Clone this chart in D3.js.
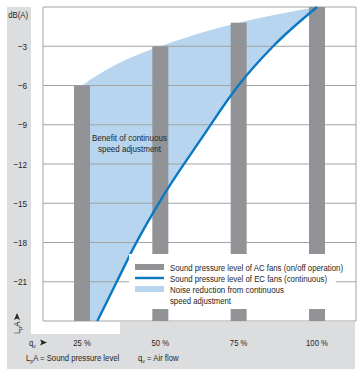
<!DOCTYPE html>
<html>
<head>
<meta charset="utf-8">
<script src="https://cdn.jsdelivr.net/npm/d3@7"></script>
<style>
  body { margin: 0; background: #fff; }
  svg text { font-family: "Liberation Sans", Arial, sans-serif; fill: #262626; }
</style>
</head>
<body>
<div id="chart"></div>
<script>
// data
const flowSteps = [25, 50, 75, 100];                 // q_v in %
const acLevels = [-6, -3, -1.2, 0];                  // AC fans, dB(A)
const acCurvePct = [25, 30, 37.5, 50, 62.5, 75, 87.5, 100];
const acCurveDb = [-6, -5.2, -4.2, -3, -2.0, -1.2, -0.55, 0];
const ecCurvePct = [29.9, 36.1, 41.9, 50.5, 62.7, 74.9, 86, 100];
const ecCurveDb = [-24, -21, -18.2, -14.6, -10.2, -6.0, -3, 0];
const yTicks = [-3, -6, -9, -12, -15, -18, -21];
const xLabels = ["25 %", "50 %", "75 %", "100 %"];
const legendItems = [
  { kind: "bar", lines: ["Sound pressure level of AC fans (on/off operation)"], len: [173] },
  { kind: "line", lines: ["Sound pressure level of EC fans (continuous)"], len: [157] },
  { kind: "area", lines: ["Noise reduction from continuous", "speed adjustment"], len: [114, 61] }
];

const W = 361, H = 374;
const colBar = "#929397", colFill = "#b7d5ee", colLine = "#0a79c2", colGrid = "#a3a3a3", colBg = "#dcdddf";
const sx = 0.86; // condensed look

const svg = d3.select("#chart").append("svg")
  .attr("width", W).attr("height", H);

// condensed text helper
function label(g, x0, y0, size, anchor) {
  return g.append("text")
    .attr("transform", `translate(${x0},${y0}) scale(${sx},1)`)
    .attr("text-anchor", anchor || "start")
    .style("font-size", size + "px");
}

const x = d3.scaleLinear().domain([25, 100]).range([82, 317]);
const y = d3.scaleLinear().domain([-24, 0]).range([321, 7]);
const plotL = 43, plotR = 356;

// background panels
svg.append("rect").attr("x", 7).attr("y", 7).attr("width", 348).attr("height", 362).attr("fill", colBg);
svg.append("rect").attr("x", 31).attr("y", 7).attr("width", 324).attr("height", 315).attr("fill", "#fff");
svg.append("rect").attr("x", 31).attr("y", 321).attr("width", 89).attr("height", 13).attr("fill", "#fff");

const acPts = acCurvePct.map((p, i) => [p, acCurveDb[i]]);
const ecPts = ecCurvePct.map((p, i) => [p, ecCurveDb[i]]);

// shaded benefit region: under AC envelope, then blank under EC curve
svg.append("path")
  .attr("d", d3.area().curve(d3.curveMonotoneX)
    .x(d => x(d[0])).y0(y(-24)).y1(d => y(d[1]))(acPts))
  .attr("fill", colFill);
svg.append("path")
  .attr("d", d3.area().curve(d3.curveMonotoneX)
    .x(d => x(d[0])).y0(y(-24)).y1(d => y(d[1]))(ecPts))
  .attr("fill", "#fff");

// grid
const grid = svg.append("g");
grid.selectAll("line.h")
  .data([0, ...yTicks, -24])
  .join("line")
  .attr("x1", plotL).attr("x2", plotR)
  .attr("y1", d => y(d)).attr("y2", d => y(d))
  .attr("stroke", colGrid).attr("stroke-width", 1);
grid.selectAll("line.v")
  .data([plotL, plotR])
  .join("line")
  .attr("x1", d => d).attr("x2", d => d)
  .attr("y1", y(0)).attr("y2", y(-24))
  .attr("stroke", colGrid).attr("stroke-width", 1);

// AC bars
const barW = 16;
svg.selectAll("rect.bar")
  .data(flowSteps)
  .join("rect")
  .attr("class", "bar")
  .attr("x", (d) => x(d) - barW / 2)
  .attr("y", (d, i) => y(acLevels[i]))
  .attr("width", barW)
  .attr("height", (d, i) => y(-24) - y(acLevels[i]))
  .attr("fill", colBar);

// EC curve
svg.append("path")
  .attr("d", d3.line().curve(d3.curveMonotoneX).x(d => x(d[0])).y(d => y(d[1]))(ecPts))
  .attr("fill", "none")
  .attr("stroke", colLine)
  .attr("stroke-width", 2.4);

// annotation
svg.append("text").attr("x", 129.5).attr("y", 141).attr("text-anchor", "middle")
  .attr("textLength", 75).attr("lengthAdjust", "spacingAndGlyphs")
  .style("font-size", "9px").text("Benefit of continuous");
svg.append("text").attr("x", 129.5).attr("y", 152).attr("text-anchor", "middle")
  .attr("textLength", 63).attr("lengthAdjust", "spacingAndGlyphs")
  .style("font-size", "9px").text("speed adjustment");

// legend (white box hides the grid and bars behind it)
const lg = svg.append("g");
lg.append("rect").attr("x", 129).attr("y", 254).attr("width", 207).attr("height", 55).attr("fill", "#fff");
lg.append("rect").attr("x", 129).attr("y", 254).attr("width", 217).attr("height", 22).attr("fill", "#fff");
const rowY = [267, 278, 289];
legendItems.forEach((it, i) => {
  const cy = rowY[i];
  if (it.kind === "bar") {
    lg.append("rect").attr("x", 135).attr("y", cy - 3).attr("width", 29).attr("height", 6).attr("fill", colBar);
  } else if (it.kind === "line") {
    lg.append("line").attr("x1", 135).attr("x2", 164).attr("y1", cy).attr("y2", cy)
      .attr("stroke", colLine).attr("stroke-width", 2.4);
  } else {
    lg.append("rect").attr("x", 135).attr("y", cy - 3).attr("width", 29).attr("height", 6).attr("fill", colFill);
  }
  it.lines.forEach((t, j) => {
    lg.append("text").attr("x", 170).attr("y", cy + 3.5 + j * 11.5)
      .attr("textLength", it.len[j]).attr("lengthAdjust", "spacingAndGlyphs")
      .style("font-size", "8.4px").text(t);
  });
});

// y tick labels
yTicks.forEach(d => {
  label(svg, 27, y(d) + 3.5, 9.5, "end").text("\u2212" + Math.abs(d));
});
label(svg, 28, 18, 9, "end").text("dB(A)");

// rotated axis label L_pA with arrow
svg.append("path")
  .attr("d", "M17,313 L20,320 L17,318.5 L14,320 Z")
  .attr("fill", "#262626");
const lpa = svg.append("text").attr("transform", "translate(20,334) rotate(-90) scale(0.86,1)").style("font-size", "9px");
lpa.append("tspan").text("L");
lpa.append("tspan").attr("dy", 2).style("font-size", "6px").text("p");
lpa.append("tspan").attr("dy", -2).text("A");

// x labels
flowSteps.forEach((d, i) => {
  label(svg, x(d), 346, 9, "middle").text(xLabels[i]);
});
const qv = label(svg, 29, 346, 9);
qv.append("tspan").text("q");
qv.append("tspan").attr("dy", 2).style("font-size", "6px").text("v");
svg.append("path")
  .attr("d", "M40,339.5 L47,342.5 L40,345.5 L41.5,342.5 Z")
  .attr("fill", "#262626");

// footnote
const f1 = label(svg, 26, 361, 9);
f1.append("tspan").text("L");
f1.append("tspan").attr("dy", 2).style("font-size", "6px").text("p");
f1.append("tspan").attr("dy", -2).text("A = Sound pressure level");
const f2 = label(svg, 138, 361, 9);
f2.append("tspan").text("q");
f2.append("tspan").attr("dy", 2).style("font-size", "6px").text("v");
f2.append("tspan").attr("dy", -2).text(" = Air flow");
</script>
</body>
</html>
